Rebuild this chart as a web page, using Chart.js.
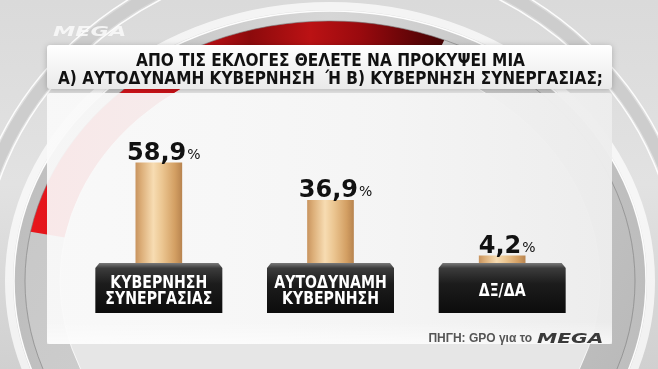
<!DOCTYPE html>
<html><head><meta charset="utf-8">
<style>html,body{margin:0;padding:0;background:#d8d8d8;overflow:hidden}canvas{display:block}</style>
<script src="https://cdn.jsdelivr.net/npm/chart.js@4.4.1/dist/chart.umd.min.js"></script>
</head><body>
<canvas id="c" width="658" height="369"></canvas>
<script>
// ---- data ----
const titleLines = ['ΑΠΟ ΤΙΣ ΕΚΛΟΓΕΣ ΘΕΛΕΤΕ ΝΑ ΠΡΟΚΥΨΕΙ ΜΙΑ', 'Α) ΑΥΤΟΔΥΝΑΜΗ ΚΥΒΕΡΝΗΣΗ  Ή Β) ΚΥΒΕΡΝΗΣΗ ΣΥΝΕΡΓΑΣΙΑΣ;'];
const categories = [['ΚΥΒΕΡΝΗΣΗ', 'ΣΥΝΕΡΓΑΣΙΑΣ'], ['ΑΥΤΟΔΥΝΑΜΗ', 'ΚΥΒΕΡΝΗΣΗ'], 'ΔΞ/ΔΑ'];
const values = [58.9, 36.9, 4.2];
const sourceText = 'ΠΗΓΗ: GPO για το';
const logoText = 'MEGA';

// ---- font detection ----
function pickFont(cands, fallback) {
  const c = document.createElement('canvas').getContext('2d');
  const s = 'ΚΥΒΕΡΝΗΣΗ abcMW 123';
  for (const f of cands) {
    c.font = 'bold 20px monospace'; const a = c.measureText(s).width;
    c.font = 'bold 20px "' + f + '", monospace'; const b = c.measureText(s).width;
    c.font = 'bold 20px serif'; const a2 = c.measureText(s).width;
    c.font = 'bold 20px "' + f + '", serif'; const b2 = c.measureText(s).width;
    if (a !== b || a2 !== b2) return f;
  }
  return fallback;
}
const narrow = pickFont(['Liberation Sans Narrow', 'DejaVu Sans Condensed', 'Roboto Condensed', 'Arial Narrow'], 'Roboto');
const narrowFamily = '"' + narrow + '", "Liberation Sans", sans-serif';
const titleSize = 17.5, tickSize = 18;

// horizontal squeeze so text widths match the broadcast font
const titleWidths = [389, 545];
const mctx = document.createElement('canvas').getContext('2d');
mctx.font = 'bold ' + tickSize + 'px ' + narrowFamily;
const tickSX = Math.min(1, 107 / mctx.measureText('ΣΥΝΕΡΓΑΣΙΑΣ').width);

function pct(v) { return v.toFixed(1).replace('.', ','); }

const squeezePlugin = {
  id: 'squeeze',
  beforeDraw(chart) {
    const proto = CanvasRenderingContext2D.prototype.fillText;
    const tb = chart.titleBlock;
    if (tb && !tb._sq) {
      const orig = tb.draw;
      tb.draw = function () {
        const c = this.ctx;
        c.fillText = function (t, x, y) {
          const i = titleLines.indexOf(t);
          const w = this.measureText(t).width;
          const sx = i >= 0 ? titleWidths[i] / w : 1;
          this.save(); this.translate(x, y); this.scale(sx, 1); proto.call(this, t, 0, 0); this.restore();
        };
        try { orig.apply(this, arguments); } finally { delete c.fillText; }
      };
      tb._sq = true;
    }
    const xs = chart.scales.x;
    if (xs && !xs._sq) {
      const origL = xs.drawLabels;
      xs.drawLabels = function () {
        const c = this.ctx;
        c.fillText = function (t, x, y) { this.save(); this.scale(tickSX, 1); proto.call(this, t, x / tickSX, y); this.restore(); };
        try { origL.apply(this, arguments); } finally { delete c.fillText; }
      };
      xs._sq = true;
    }
  }
};

// decorative rings (background artwork)
const RC = { x: 330, y: 281 };
function band(ctx, ao, bo, ai, bi, t0, t1) {
  ctx.beginPath();
  ctx.ellipse(RC.x, RC.y, ao, bo, 0, t0, t1, false);
  ctx.ellipse(RC.x, RC.y, ai, bi, 0, t1, t0, true);
  ctx.closePath();
}
function oval(ctx, a, b) { ctx.beginPath(); ctx.ellipse(RC.x, RC.y, a, b, 0, 0, Math.PI * 2); }

const bgPlugin = {
  id: 'bgPlugin',
  beforeDraw(chart) {
    const ctx = chart.ctx, W = chart.width, H = chart.height, TAU = Math.PI * 2;
    ctx.save();
    let g = ctx.createLinearGradient(0, 0, 0, H);
    g.addColorStop(0, '#dadada'); g.addColorStop(0.5, '#e2e2e2'); g.addColorStop(1, '#d0d0d0');
    ctx.fillStyle = g; ctx.fillRect(0, 0, W, H);
    // large outer silver ring
    band(ctx, 362, 336, 350, 324, 0, TAU);
    ctx.fillStyle = '#cdcdcd'; ctx.fill();
    ctx.lineWidth = 1.5; ctx.strokeStyle = 'rgba(255,255,255,0.9)';
    oval(ctx, 364, 338); ctx.stroke();
    oval(ctx, 348, 322); ctx.stroke();
    // white glow outside main ring
    ctx.lineWidth = 8; ctx.strokeStyle = 'rgba(255,255,255,0.7)';
    oval(ctx, 321, 275); ctx.stroke();
    // inside of main ring
    oval(ctx, 270, 230); ctx.fillStyle = '#e6e6e6'; ctx.fill();
    // thin silver rim
    g = ctx.createLinearGradient(0, 0, W, 0);
    g.addColorStop(0, '#bdbdbd'); g.addColorStop(0.5, '#d6d6d6'); g.addColorStop(1, '#bcbcbc');
    band(ctx, 316, 270, 305, 260, 0, TAU); ctx.fillStyle = g; ctx.fill();
    // main band (silver)
    g = ctx.createLinearGradient(0, 0, W, H);
    g.addColorStop(0, '#c4c4c4'); g.addColorStop(0.5, '#d0d0d0'); g.addColorStop(1, '#b8b8b8');
    band(ctx, 305, 260, 270, 230, 0, TAU); ctx.fillStyle = g; ctx.fill();
    // red segment
    const t0 = 190.9 * Math.PI / 180, t1 = 292 * Math.PI / 180;
    g = ctx.createLinearGradient(0, 0, W, 0);
    g.addColorStop(30 / W, '#e8161c'); g.addColorStop(200 / W, '#c41016'); g.addColorStop(250 / W, '#8c0a0c');
    g.addColorStop(310 / W, '#bb1214'); g.addColorStop(360 / W, '#9a0a0e'); g.addColorStop(420 / W, '#5a0406');
    g.addColorStop(460 / W, '#360202');
    band(ctx, 305, 260, 270, 230, t0, t1); ctx.fillStyle = g; ctx.fill();
    // rim highlights
    ctx.lineWidth = 1.5; ctx.strokeStyle = 'rgba(255,255,255,0.95)';
    oval(ctx, 316, 270); ctx.stroke();
    ctx.lineWidth = 1; ctx.strokeStyle = 'rgba(120,120,120,0.6)';
    oval(ctx, 305, 260); ctx.stroke();
    ctx.strokeStyle = 'rgba(255,255,255,0.8)';
    oval(ctx, 270, 230); ctx.stroke();

    // top-left logo
    ctx.save();
    ctx.translate(53, 36); ctx.scale(1.6, 1);
    ctx.font = 'italic bold 14px "DejaVu Sans"'; ctx.fillStyle = 'rgba(250,250,250,0.85)';
    ctx.fillText(logoText, 0, 0);
    ctx.restore();

    // panels
    ctx.save();
    ctx.shadowColor = 'rgba(0,0,0,0.22)'; ctx.shadowBlur = 6; ctx.shadowOffsetY = 1;
    g = ctx.createLinearGradient(0, 45, 0, 89);
    g.addColorStop(0, '#ffffff'); g.addColorStop(1, '#e9e9e9');
    ctx.fillStyle = g;
    ctx.beginPath(); ctx.roundRect(47, 45, 565, 44, 3); ctx.fill();
    ctx.restore();
    g = ctx.createLinearGradient(47, 0, 612, 0);
    g.addColorStop(0, 'rgba(250,250,250,0.92)'); g.addColorStop(0.3, 'rgba(248,248,248,0.95)');
    g.addColorStop(0.6, 'rgba(245,245,245,0.96)'); g.addColorStop(1, 'rgba(237,237,237,0.96)');
    ctx.fillStyle = g;
    ctx.beginPath(); ctx.roundRect(47, 93, 565, 251, 3); ctx.fill();
    // bottom strip
    g = ctx.createLinearGradient(0, 322, 0, 344);
    g.addColorStop(0, 'rgba(255,255,255,0)'); g.addColorStop(1, 'rgba(255,255,255,0.6)');
    ctx.fillStyle = g; ctx.fillRect(47, 322, 565, 22);

    // source text + logo
    ctx.font = 'bold 12px "Liberation Sans", Arial, sans-serif';
    ctx.fillStyle = '#555'; ctx.textAlign = 'right'; ctx.textBaseline = 'alphabetic';
    ctx.fillText(sourceText, 532, 342);
    ctx.save();
    ctx.translate(537, 343); ctx.scale(1.45, 1);
    ctx.textAlign = 'left';
    ctx.font = 'italic bold 14px "DejaVu Sans"'; ctx.fillStyle = '#3a3a3a';
    ctx.fillText(logoText, 0, 0);
    ctx.restore();

    // label boxes
    const xs = chart.scales.x, top = chart.chartArea.bottom;
    for (let i = 0; i < values.length; i++) {
      const c = xs.getPixelForValue(i), w = 127, x0 = c - w / 2, x1 = c + w / 2;
      g = ctx.createLinearGradient(0, top, 0, top + 5);
      g.addColorStop(0, '#7a7a7a'); g.addColorStop(1, '#3e3e3e');
      ctx.fillStyle = g;
      ctx.beginPath(); ctx.moveTo(x0 + 4, top); ctx.lineTo(x1 - 4, top); ctx.lineTo(x1, top + 5); ctx.lineTo(x0, top + 5); ctx.closePath(); ctx.fill();
      g = ctx.createLinearGradient(0, top + 5, 0, top + 50);
      g.addColorStop(0, '#3c3c3c'); g.addColorStop(0.35, '#1c1c1c'); g.addColorStop(1, '#0c0c0c');
      ctx.fillStyle = g; ctx.fillRect(x0, top + 5, w, 45);
    }
    ctx.restore();
  }
};

const valuePlugin = {
  id: 'valuePlugin',
  afterDatasetsDraw(chart) {
    const ctx = chart.ctx, meta = chart.getDatasetMeta(0);
    ctx.save();
    ctx.fillStyle = '#111'; ctx.textBaseline = 'alphabetic'; ctx.textAlign = 'left';
    meta.data.forEach((el, i) => {
      const num = pct(values[i]);
      ctx.font = 'bold 24px "DejaVu Sans"'; const wn = ctx.measureText(num).width;
      ctx.font = '14px "DejaVu Sans"'; const wp = ctx.measureText('%').width;
      const sx = el.x + 5 - (wn + wp + 1) / 2, y = el.y - 3;
      ctx.font = 'bold 24px "DejaVu Sans"'; ctx.fillText(num, sx, y);
      ctx.font = '14px "DejaVu Sans"'; ctx.fillText('%', sx + wn + 1, y - 1);
    });
    ctx.restore();
  }
};

function barGradient(context) {
  const chart = context.chart;
  if (!chart.chartArea) return '#e0b07a';
  const x = chart.scales.x.getPixelForValue(context.dataIndex);
  const g = chart.ctx.createLinearGradient(x - 23, 0, x + 23, 0);
  g.addColorStop(0, '#c99560'); g.addColorStop(0.12, '#dcae78'); g.addColorStop(0.38, '#f7dcb2');
  g.addColorStop(0.58, '#ebc590'); g.addColorStop(0.85, '#d39f63'); g.addColorStop(1, '#b98550');
  return g;
}

new Chart(document.getElementById('c'), {
  type: 'bar',
  data: {
    labels: categories,
    datasets: [{ data: values, backgroundColor: barGradient, borderWidth: 0, barThickness: 46 }]
  },
  options: {
    responsive: false, animation: false, devicePixelRatio: 1,
    layout: { padding: { left: 73, right: 70, top: 0, bottom: 0 } },
    plugins: {
      legend: { display: false }, tooltip: { enabled: false },
      title: {
        display: true, text: titleLines, color: '#111',
        font: { family: narrowFamily, size: titleSize, weight: 'bold', lineHeight: 18.5 / titleSize },
        padding: { top: 52, bottom: 93 - 52 - 37 }
      }
    },
    scales: {
      y: { display: false, min: 0, max: 100 },
      x: {
        grid: { display: false, drawTicks: false }, border: { display: false },
        afterFit(scale) { scale.height = 106; },
        ticks: {
          color: '#ffffff', autoSkip: false, maxRotation: 0, padding: 20, crossAlign: 'center',
          font: { family: narrowFamily, size: tickSize, weight: 'bold', lineHeight: 16.8 / tickSize }
        }
      }
    }
  },
  plugins: [squeezePlugin, bgPlugin, valuePlugin]
});
</script>
</body></html>
